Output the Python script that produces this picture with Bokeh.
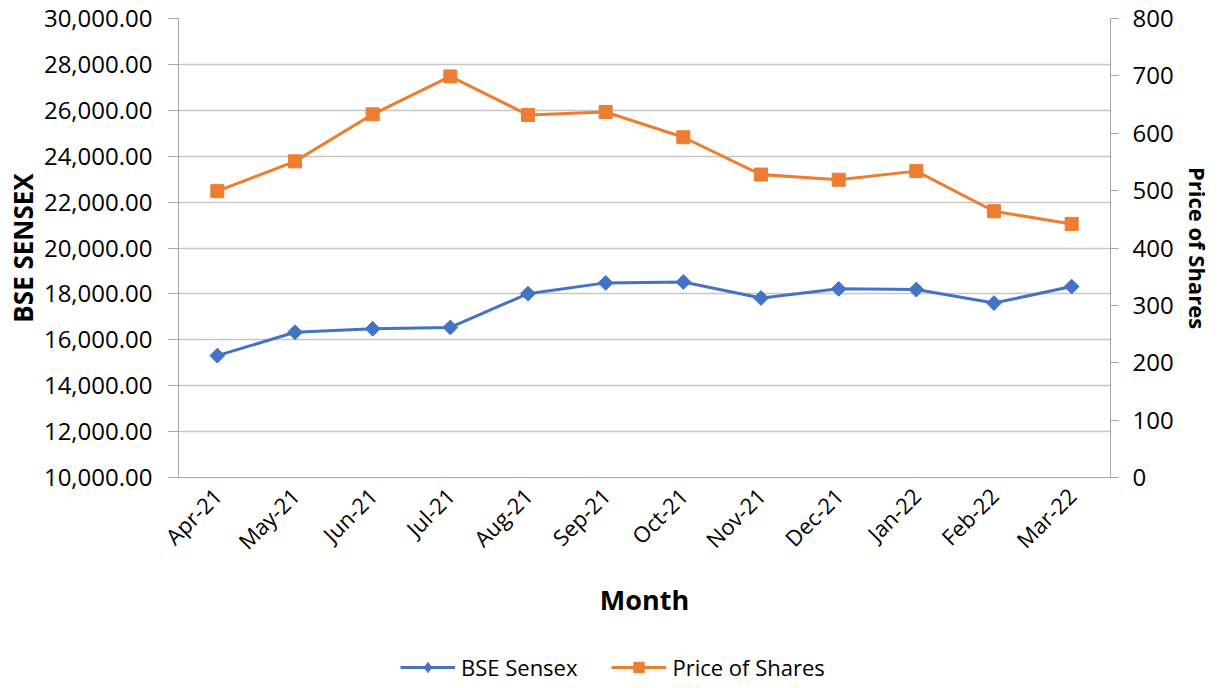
from math import pi
from bokeh.plotting import figure
from bokeh.layouts import column
from bokeh.models import (FactorRange, Range1d, LinearAxis, NumeralTickFormatter,
                          FixedTicker, Legend, LegendItem, ColumnDataSource)
from bokeh.embed import file_html
from bokeh.resources import INLINE

months = ["Apr-21", "May-21", "Jun-21", "Jul-21", "Aug-21", "Sep-21",
          "Oct-21", "Nov-21", "Dec-21", "Jan-22", "Feb-22", "Mar-22"]
bse_sensex = [15310, 16330, 16480, 16540, 18010, 18480,
              18520, 17820, 18220, 18190, 17600, 18320]
price_of_shares = [499, 551, 633, 699, 632, 637,
                   593, 528, 519, 534, 464, 442]
left_ticks = [10000, 12000, 14000, 16000, 18000, 20000,
              22000, 24000, 26000, 28000, 30000]
right_ticks = [0, 100, 200, 300, 400, 500, 600, 700, 800]

FONT = "Open Sans"
BLUE = "#4472C4"
ORANGE = "#ED7D31"
GRID = "#c6c6c6"
AXIS = "#a6a6a6"
W = 1215

src = ColumnDataSource(dict(month=months, bse=bse_sensex, price=price_of_shares))

p = figure(width=W, height=636, output_backend="svg", toolbar_location=None,
           x_range=FactorRange(*months), y_range=Range1d(10000, 30000),
           min_border_left=178, min_border_right=105, min_border_top=18,
           min_border_bottom=159)
p.extra_y_ranges = {"price": Range1d(0, 800)}
p.outline_line_color = None
p.background_fill_color = "white"
p.border_fill_color = "white"

# left axis
yl = p.yaxis[0]
yl.ticker = FixedTicker(ticks=left_ticks)
yl.formatter = NumeralTickFormatter(format="0,0.00")
yl.axis_label = "BSE SENSEX"
yl.axis_label_text_font = FONT
yl.axis_label_text_font_style = "bold"
yl.axis_label_text_font_size = "26px"
yl.axis_label_text_color = "black"
yl.axis_label_standoff = 0
yl.major_label_text_font = FONT
yl.major_label_text_font_size = "24px"
yl.major_label_text_color = "black"
yl.axis_line_color = AXIS
yl.major_tick_line_color = AXIS
yl.major_tick_out = 10
yl.major_tick_in = 0
yl.minor_tick_line_color = None
yl.major_label_standoff = 16

# right axis
yr = LinearAxis(y_range_name="price", ticker=FixedTicker(ticks=right_ticks))
yr.axis_label = "Price of Shares"
yr.axis_label_text_font = FONT
yr.axis_label_text_font_style = "bold"
yr.axis_label_text_font_size = "22px"
yr.axis_label_text_color = "black"
yr.axis_label_standoff = 6
yr.major_label_text_font = FONT
yr.major_label_text_font_size = "24px"
yr.major_label_text_color = "black"
yr.axis_line_color = AXIS
yr.major_tick_line_color = AXIS
yr.major_tick_out = 8
yr.major_tick_in = 0
yr.minor_tick_line_color = None
yr.major_label_standoff = 14
p.add_layout(yr, "right")

# x axis
xa = p.xaxis[0]
xa.axis_label = "Month"
xa.axis_label_text_font = FONT
xa.axis_label_text_font_style = "bold"
xa.axis_label_text_font_size = "27px"
xa.axis_label_text_color = "black"
xa.axis_label_standoff = 12
xa.major_label_text_font = FONT
xa.major_label_text_font_size = "22px"
xa.major_label_text_color = "black"
xa.major_label_orientation = pi / 4
xa.axis_line_color = AXIS
xa.major_tick_line_color = None
xa.minor_tick_line_color = None
xa.major_label_standoff = 8

p.xgrid.grid_line_color = None
p.ygrid.grid_line_color = GRID
p.ygrid.grid_line_width = 1.5

p.line("month", "bse", source=src, color=BLUE, line_width=3)
p.scatter("month", "bse", source=src, marker="square", angle=pi / 4, size=10.5,
          fill_color=BLUE, line_color=BLUE)
p.line("month", "price", source=src, color=ORANGE, line_width=3,
       y_range_name="price")
p.scatter("month", "price", source=src, marker="square", size=13,
          fill_color=ORANGE, line_color=ORANGE, y_range_name="price")

# legend strip (renderers sit outside its visible range, only the legend shows)
lg = figure(width=W, height=48, output_backend="svg", toolbar_location=None,
            x_range=FactorRange(*months), y_range=Range1d(0, 1),
            x_axis_location=None, y_axis_location=None,
            min_border_left=178, min_border_right=105, min_border_top=0,
            min_border_bottom=0)
lg.outline_line_color = None
lg.xgrid.grid_line_color = None
lg.ygrid.grid_line_color = None
r1 = lg.line("month", "bse", source=src, color=BLUE, line_width=3)
r2 = lg.scatter("month", "bse", source=src, marker="diamond", size=17,
                fill_color=BLUE, line_color=BLUE)
r3 = lg.line("month", "price", source=src, color=ORANGE, line_width=3)
r4 = lg.scatter("month", "price", source=src, marker="square", size=13,
                fill_color=ORANGE, line_color=ORANGE)

legend = Legend(items=[LegendItem(label="BSE Sensex", renderers=[r1, r2]),
                       LegendItem(label="Price of Shares", renderers=[r3, r4])],
                orientation="horizontal", location=(222, 2))
legend.label_text_font = FONT
legend.label_text_font_size = "22px"
legend.label_text_color = "black"
legend.label_standoff = 6
legend.label_height = 26
legend.glyph_width = 55
legend.glyph_height = 26
legend.spacing = 34
legend.padding = 0
legend.margin = 0
legend.border_line_color = None
legend.background_fill_alpha = 0
lg.add_layout(legend, "center")

layout = column(p, lg, spacing=0)
open("out.html", "w").write(file_html(layout, INLINE))
